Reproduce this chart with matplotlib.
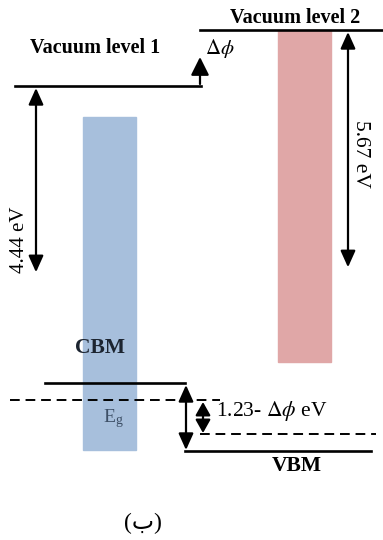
import matplotlib
matplotlib.use('Agg')
import matplotlib.pyplot as plt
from matplotlib.patches import Rectangle

plt.rcParams['mathtext.fontset'] = 'stix'

# band diagram drawn on a pixel-like canvas (y grows downward)
W, H = 383, 540
PX_PER_EV = 41.5

vacuum_labels = ['Vacuum level 1', 'Vacuum level 2']
vacuum_y = [86, 30]
vacuum_x = [(15, 201), (200, 383)]
work_fn_ev = [4.44, 5.67]
work_fn_x = [36, 348]

band_x = [83, 278]
band_top = [117, 30]
band_bottom = [450, 362]
band_colors = ['#a7bfdc', '#e0a7a7']

cbm_y, vbm_y = 383, 451
redox_y = [400, 434]

DPHI = r'$\mathit{\Delta}\phi$'


def arrow(ax, x, y0, y1, style='<|-|>', hw=0.45, hl=1.0):
    ax.annotate('', xy=(x, y1), xytext=(x, y0),
                arrowprops=dict(arrowstyle=f'{style},head_width={hw},head_length={hl}',
                                color='black', lw=1.6, shrinkA=0, shrinkB=0))


fig = plt.figure(figsize=(W / 100, H / 100), dpi=100)
ax = fig.add_axes([0, 0, 1, 1])
ax.set_xlim(0, W)
ax.set_ylim(H, 0)
ax.axis('off')

serif = ['Liberation Serif', 'DejaVu Sans']

# semiconductor bands
for x, t, b, c in zip(band_x, band_top, band_bottom, band_colors):
    ax.add_patch(Rectangle((x, t), 53, b - t, color=c, zorder=1))

# vacuum levels
for (x0, x1), y, lab in zip(vacuum_x, vacuum_y, vacuum_labels):
    ax.plot([x0, x1], [y, y], color='black', lw=1.9, zorder=3)
ax.text(95, 48, vacuum_labels[0], ha='center', va='center', family=serif,
        fontweight='bold', fontsize=14.5)
ax.text(295, 18, vacuum_labels[1], ha='center', va='center', family=serif,
        fontweight='bold', fontsize=14.5)

# vacuum level shift
arrow(ax, 200, 84, 57, style='-|>', hw=0.55, hl=1.1)
ax.text(205, 48, DPHI, ha='left', va='center', fontsize=15)

# work function arrows
y_end = [vacuum_y[i] + 2 + work_fn_ev[i] * PX_PER_EV for i in range(2)]
arrow(ax, work_fn_x[0], vacuum_y[0] + 2, y_end[0])
arrow(ax, work_fn_x[1], vacuum_y[1] + 2, y_end[1])
ax.text(20, 240, f'{work_fn_ev[0]:.2f} eV', rotation=90, ha='center', va='center',
        family=serif, fontsize=15)
ax.text(361, 154, f'{work_fn_ev[1]:.2f} eV', rotation=-90, ha='center', va='center',
        family=serif, fontsize=15.5)

# band edges
ax.plot([45, 185], [cbm_y, cbm_y], color='black', lw=1.9, zorder=3)
ax.plot([185, 371], [vbm_y, vbm_y], color='black', lw=1.9, zorder=3)
ax.plot([10, 220], [redox_y[0], redox_y[0]], color='black', lw=1.4,
        ls=(0, (5, 3)), zorder=3)
ax.plot([200, 376], [redox_y[1], redox_y[1]], color='black', lw=1.4,
        ls=(0, (5, 3)), zorder=3)
ax.text(100, 348, 'CBM', ha='center', va='center', family=serif, fontweight='bold',
        fontsize=15.5, color='#1c2430', zorder=4)
ax.text(297, 466, 'VBM', ha='center', va='center', family=serif, fontweight='bold',
        fontsize=15.5)
ax.text(113, 419, r'E$_\mathregular{g}$', ha='center', va='center', family=serif,
        fontsize=14, color='#3d4f66')

arrow(ax, 186, cbm_y + 2, vbm_y - 1, hw=0.45, hl=1.0)
arrow(ax, 203, redox_y[0] + 2, redox_y[1] - 1, hw=0.45, hl=0.8)
ax.text(216, 411, '1.23- ' + DPHI + ' eV', ha='left', va='center', family=serif,
        fontsize=15.5)

ax.text(143, 523, '(ب)', ha='center', va='center', family=serif, fontsize=17)

fig.savefig('out.png', dpi=100)
